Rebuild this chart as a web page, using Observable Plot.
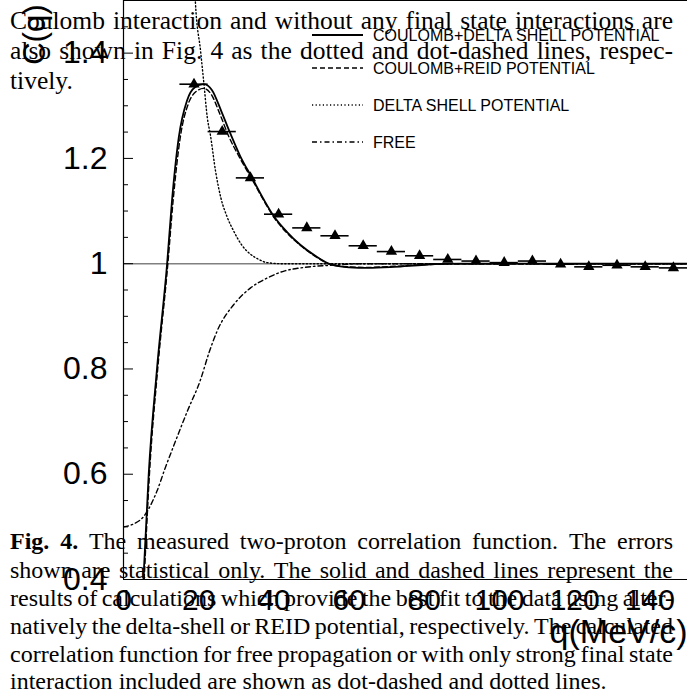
<!DOCTYPE html>
<html><head><meta charset="utf-8">
<script src="https://cdn.jsdelivr.net/npm/d3@7"></script>
<script src="https://cdn.jsdelivr.net/npm/@observablehq/plot@0.6"></script>
<style>
html,body{margin:0;padding:0;background:#fff;}
#wrap{position:relative;width:687px;height:696px;overflow:hidden;background:#fff;}
#paper,#chart,#legend{position:absolute;left:0;top:0;}
</style></head><body>
<div id="wrap"><svg id="paper" width="687" height="696"></svg><div id="chart"></div><svg id="legend" width="687" height="696"></svg></div>
<script>
// ---- data ----
const binQ = [18.75, 26.25, 33.75, 41.25, 48.75, 56.25, 63.75, 71.25, 78.75, 86.25, 93.75, 101.25, 108.75, 116.25, 123.75, 131.25, 138.75, 146.25];
const binC = [1.341, 1.251, 1.163, 1.094, 1.068, 1.053, 1.034, 1.023, 1.015, 1.008, 1.005, 1.002, 1.005, 0.999, 0.994, 0.997, 0.994, 0.992];
const binHalfWidth = 3.75;

const solidQ = [5.3, 6.7, 8.9, 11.6, 12.9, 14.7, 16.9, 19, 21.3, 23.5, 26, 28.2, 31, 34.2, 37.3, 40, 43.5, 47, 51, 55, 60, 65, 72, 80, 90, 110, 150];
const solidC = [0.4, 0.6, 0.8, 1.0, 1.12, 1.24, 1.31, 1.335, 1.341, 1.33, 1.29, 1.251, 1.205, 1.163, 1.122, 1.09, 1.06, 1.036, 1.015, 0.999, 0.993, 0.992, 0.994, 0.998, 1.0, 1.0, 1.0];

const reidQ = [5.5, 6.9, 9.1, 11.8, 13.2, 15.1, 17.3, 19.3, 21.3, 23.3, 25.6, 27.8, 31, 34.2, 37.3, 40, 43.5, 47, 51, 55, 60, 65, 72, 80, 90, 110, 150];
const reidC = [0.4, 0.6, 0.8, 1.0, 1.12, 1.24, 1.305, 1.327, 1.333, 1.322, 1.285, 1.245, 1.2, 1.16, 1.12, 1.088, 1.058, 1.035, 1.014, 0.999, 0.994, 0.993, 0.995, 0.998, 1.0, 1.0, 1.0];

const deltaQ = [18.6, 19.1, 20.5, 21.4, 22.3, 23.1, 24.5, 25.9, 27.5, 29.3, 31.5, 33.8, 36, 38.2, 42, 60, 100, 150];
const deltaC = [1.6, 1.5, 1.404, 1.341, 1.277, 1.245, 1.175, 1.125, 1.09, 1.062, 1.035, 1.018, 1.008, 1.002, 1.0, 1.0, 1.0, 1.0];

const freeQ = [0, 2.5, 5.4, 8.9, 11, 13.4, 17, 20.5, 22.7, 24.9, 29.4, 33.8, 38.3, 42.7, 47.1, 55, 65, 100, 150];
const freeC = [0.5, 0.505, 0.52, 0.568, 0.61, 0.655, 0.72, 0.78, 0.83, 0.872, 0.923, 0.954, 0.973, 0.986, 0.992, 0.997, 1.0, 1.0, 1.0];

const xTicks = [0, 20, 40, 60, 80, 100, 120, 140];
const yTicks = [0.4, 0.6, 0.8, 1, 1.2, 1.4];
const yMinorTicks = [0.45, 0.5, 0.55, 0.65, 0.7, 0.75, 0.85, 0.9, 0.95, 1.05, 1.1, 1.15, 1.25, 1.3, 1.35, 1.45];
const xTitle = "q(MeV/c)";
const yTitle = "C(q)";
const legendLabels = ["COULOMB+DELTA SHELL POTENTIAL", "COULOMB+REID POTENTIAL", "DELTA SHELL POTENTIAL", "FREE"];

const bodyLines = [
  "Coulomb interaction and without any final state interactions are",
  "also shown in Fig. 4 as the dotted and dot-dashed lines, respec-",
  "tively."
];
const captionLines = [
  "Fig. 4. The measured two-proton correlation function. The errors",
  "shown are statistical only. The solid and dashed lines represent the",
  "results of calculations which provide the best fit to the data using alter-",
  "natively the delta-shell or REID potential, respectively. The calculated",
  "correlation function for free propagation or with only strong final state",
  "interaction included are shown as dot-dashed and dotted lines."
];

// ---- background page text ----
const paper = d3.select("#paper");
const textLeft = 10, textRight = 673;
function measure(word, size, bold) {
  const t = paper.append("text").attr("font-family", "Liberation Serif").attr("font-size", size)
    .attr("font-weight", bold ? "bold" : "normal").text(word);
  const w = t.node().getComputedTextLength();
  t.remove();
  return w;
}
function layLine(line, baseline, size, justify, boldWords) {
  const words = line.split(" ");
  const widths = words.map((w, i) => measure(w, size, i < boldWords));
  const total = d3.sum(widths);
  const gap = justify && words.length > 1 ? (textRight - textLeft - total) / (words.length - 1) : size * 0.25;
  let x = textLeft;
  words.forEach((w, i) => {
    paper.append("text").attr("x", x).attr("y", baseline)
      .attr("font-family", "Liberation Serif").attr("font-size", size)
      .attr("font-weight", i < boldWords ? "bold" : "normal").attr("fill", "#000").text(w);
    x += widths[i] + gap;
  });
}
const bodyBase = [29, 59, 89];
bodyLines.forEach((l, i) => layLine(l, bodyBase[i], 25.5, i < bodyLines.length - 1, 0));
const capBase = [549, 578, 606, 634, 662, 689];
captionLines.forEach((l, i) => layLine(l, capBase[i], 24, i < captionLines.length - 1, i === 0 ? 2 : 0));

// ---- chart ----
const toRows = (qs, cs) => qs.map((q, i) => ({q, c: cs[i]}));
const solid = toRows(solidQ, solidC);
const reid = toRows(reidQ, reidC);
const delta = toRows(deltaQ, deltaC);
const free = toRows(freeQ, freeC);
const points = binQ.map((q, i) => ({q, c: binC[i], lo: q - binHalfWidth, hi: q + binHalfWidth}));

const W = 687, H = 696, ML = 123, MB = 117;
const chart = Plot.plot({
  width: W, height: H,
  marginLeft: ML, marginRight: 0, marginTop: 0, marginBottom: MB,
  x: {domain: [0, 150], label: null},
  y: {domain: [0.4, 1.5], label: null},
  style: {background: "transparent", fontFamily: "Liberation Sans", color: "#000"},
  marks: [
    Plot.ruleY([1], {stroke: "#808080", strokeWidth: 1.6}),
    Plot.line(free, {x: "q", y: "c", stroke: "#000", strokeWidth: 1.4, strokeDasharray: "5,3,1.5,3", curve: "monotone-x", clip: true}),
    Plot.line(delta, {x: "q", y: "c", stroke: "#000", strokeWidth: 1.4, strokeDasharray: "1.2,2.4", curve: "monotone-x", clip: true}),
    Plot.line(reid, {x: "q", y: "c", stroke: "#000", strokeWidth: 1.4, strokeDasharray: "5,3", curve: "monotone-x", clip: true}),
    Plot.line(solid, {x: "q", y: "c", stroke: "#000", strokeWidth: 1.8, curve: "monotone-x", clip: true}),
    Plot.ruleY(points, {y: "c", x1: "lo", x2: "hi", stroke: "#000", strokeWidth: 1.6}),
    Plot.dot(points, {x: "q", y: "c", symbol: "triangle", r: 4.2, fill: "#000", stroke: null}),
    Plot.ruleX([0], {stroke: "#000", strokeWidth: 1.2}),
    Plot.ruleY([0.4], {stroke: "#000", strokeWidth: 1.2}),
    Plot.ruleY([1.5], {stroke: "#000", strokeWidth: 1.2}),
    Plot.tickY(yMinorTicks, {y: d => d, insetRight: W - ML - 5, stroke: "#000"}),
    Plot.tickY(yTicks, {y: d => d, insetRight: W - ML - 10, stroke: "#000"}),
    Plot.axisY({ticks: yTicks, tickSize: 0, tickPadding: 16, tickFormat: d3.format("~g"), fontSize: 32, fontFamily: "Liberation Sans", fill: "#000"}),
    Plot.axisX({ticks: xTicks, tickSize: 0, tickPadding: 9, fontSize: 30, fontFamily: "Liberation Sans", fill: "#000"}),
    Plot.text([yTitle], {text: d => d, frameAnchor: "top-left", rotate: -90, textAnchor: "end", dx: -101, dy: 4, fontSize: 31, fontFamily: "Liberation Sans", fill: "#000"}),
    Plot.text([xTitle], {text: d => d, frameAnchor: "bottom-right", textAnchor: "end", dy: 63, fontSize: 34, fontFamily: "Liberation Sans", fill: "#000"})
  ]
});
document.getElementById("chart").appendChild(chart);

// ---- legend ----
const legend = d3.select("#legend");
const legendDash = [null, "5,3", "1.2,2.4", "5,3,1.5,3"];
const legendY = [35, 68, 105, 142];
legendLabels.forEach((lab, i) => {
  legend.append("line").attr("x1", 312).attr("x2", 363).attr("y1", legendY[i]).attr("y2", legendY[i])
    .attr("stroke", "#000").attr("stroke-width", i === 0 ? 1.8 : 1.4).attr("stroke-dasharray", legendDash[i]);
  legend.append("text").attr("x", 373).attr("y", legendY[i] + 6).attr("font-family", "Liberation Sans")
    .attr("font-size", 16).attr("fill", "#000").text(lab);
});
</script>
</body></html>
